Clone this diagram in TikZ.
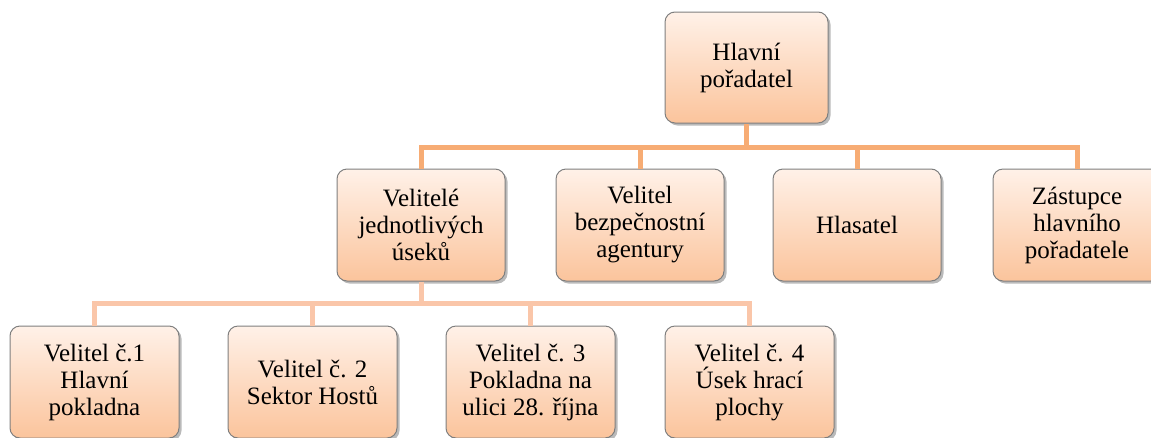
\documentclass[tikz,border=0pt]{standalone}
\usepackage{fontspec}
\setmainfont{Liberation Serif}
\usetikzlibrary{shadows}
\definecolor{boxtop}{HTML}{FFF1E8}
\definecolor{boxbot}{HTML}{FBC49C}
\definecolor{lineA}{HTML}{F7AC74}
\definecolor{lineB}{HTML}{FAC6A9}
\definecolor{edge}{HTML}{7F7F7F}
\tikzset{
  orgbox/.style={draw=edge, line width=1pt, rounded corners=10pt,
    top color=boxtop, bottom color=boxbot, minimum width=168pt, minimum height=112pt,
    align=center, inner sep=2pt, font=\fontsize{25}{27}\selectfont,
    drop shadow={shadow xshift=2.5pt, shadow yshift=-2.5pt, fill=black!45, opacity=0.6}},
  linkA/.style={draw=lineA, line width=5pt},
  linkB/.style={draw=lineB, line width=5pt},
}
\begin{document}
\begin{tikzpicture}[x=1pt,y=-1pt]
\useasboundingbox (0,0) rectangle (1151,437);
\clip (0,0) rectangle (1151,437);
\coordinate (hA) at (0,147);
\coordinate (hB) at (0,303);
\node[orgbox, minimum width=163pt, minimum height=111pt] (top) at (746.5,67.5) {Hlavní\\pořadatel};
\node[orgbox] (m1) at (421,225) {Velitelé\\jednotlivých\\úseků};
\node[orgbox] (m2) at (640,225) {Velitel\\bezpečnostní\\agentury};
\node[orgbox] (m3) at (857,225) {Hlasatel};
\node[orgbox] (m4) at (1077,225) {Zástupce\\hlavního\\pořadatele};
\node[orgbox, minimum width=169pt] (b1) at (94.5,382) {Velitel č.1\\Hlavní\\pokladna};
\node[orgbox, minimum width=169pt] (b2) at (312.5,382) {Velitel č. 2\\Sektor Hostů};
\node[orgbox, minimum width=169pt] (b3) at (530.5,382) {Velitel č. 3\\Pokladna na\\ulici 28. října};
\node[orgbox, minimum width=169pt] (b4) at (749.5,382) {Velitel č. 4\\Úsek hrací\\plochy};
% first level links
\path[linkA] (top.south) -- (top.south |- hA);
\path[linkA, line join=miter] (m1.north) -- (m1.north |- hA) -- (m4.north |- hA) -- (m4.north);
\path[linkA] (m2.north |- hA) -- (m2.north);
\path[linkA] (m3.north |- hA) -- (m3.north);
% second level links
\path[linkB] (m1.south) -- (m1.south |- hB);
\path[linkB, line join=miter] (b1.north) -- (b1.north |- hB) -- (b4.north |- hB) -- (b4.north);
\path[linkB] (b2.north |- hB) -- (b2.north);
\path[linkB] (b3.north |- hB) -- (b3.north);
\end{tikzpicture}
\end{document}
